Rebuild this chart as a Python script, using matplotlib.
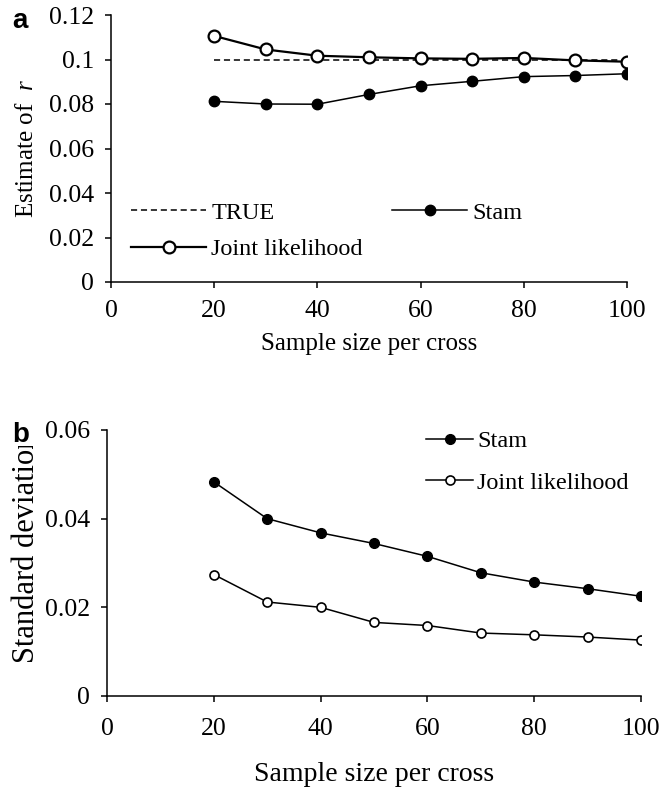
import matplotlib
matplotlib.use("Agg")
import matplotlib.pyplot as plt
from matplotlib.transforms import Bbox, TransformedBbox

# ---------------- data ----------------
sample_size = [20, 30, 40, 50, 60, 70, 80, 90, 100]
true_r = [0.1] * 9
est_stam = [0.0812, 0.0800, 0.0799, 0.0843, 0.0882, 0.0902, 0.0923, 0.0928, 0.0936]
est_joint = [0.1106, 0.1045, 0.1017, 0.1010, 0.1005, 0.1003, 0.1007, 0.0996, 0.0990]
sd_stam = [0.0483, 0.0400, 0.0368, 0.0344, 0.0315, 0.0278, 0.0257, 0.0242, 0.0225]
sd_joint = [0.0274, 0.0212, 0.0200, 0.0166, 0.0159, 0.0142, 0.0138, 0.0133, 0.0126]
x_ticks = [0, 20, 40, 60, 80, 100]
a_yticks = [0, 0.02, 0.04, 0.06, 0.08, 0.1, 0.12]
b_yticks = [0, 0.02, 0.04, 0.06]

SERIF = ["Liberation Serif", "DejaVu Serif"]
plt.rcParams["font.family"] = SERIF
plt.rcParams["mathtext.fontset"] = "custom"
plt.rcParams["mathtext.it"] = "Liberation Serif:italic"
plt.rcParams["mathtext.rm"] = "Liberation Serif"

fig = plt.figure(figsize=(6.62, 7.92), dpi=100)
W, H = 662, 792
TICK_FS = 18.5

def ax_rect(l, r, t, b):
    return [l / W, 1 - b / H, (r - l) / W, (b - t) / H]

def style(ax, yticks, xpad):
    for s in ("top", "right"):
        ax.spines[s].set_visible(False)
    for s in ("left", "bottom"):
        ax.spines[s].set_linewidth(1.1)
    ax.tick_params(direction="out", length=4, width=1.1, labelsize=TICK_FS)
    ax.tick_params(axis="y", pad=8)
    ax.tick_params(axis="x", pad=xpad)
    ax.set_xlim(0, 100)
    ax.set_xticks(x_ticks)
    ax.set_xticklabels([str(v) for v in x_ticks])
    ax.set_yticks(yticks)
    ax.set_yticklabels([f"{v:g}" for v in yticks])

# ---------------- panel a ----------------
axa = fig.add_axes(ax_rect(111, 627, 15, 282))
style(axa, a_yticks, 9)
axa.set_ylim(0, 0.12)
axa.plot(sample_size, true_r, ls=(0, (4, 2.5)), color="black", lw=1.1, label="TRUE")
axa.plot(sample_size, est_joint, color="black", lw=1.6, marker="o", ms=8.5,
         mfc="white", mec="black", mew=1.6, label="Joint likelihood", zorder=4)
axa.plot(sample_size, est_stam, color="black", lw=1.1, marker="o", ms=7.5,
         mfc="black", mec="black", label="Stam", zorder=3)
axa.set_ylabel("Estimate of  $\\mathit{r}$", fontsize=18, labelpad=8)
axa.set_xlabel("Sample size per cross", fontsize=18, labelpad=8)
axa.legend(ncol=2, loc="lower left", bbox_to_anchor=(0.02, 0.045),
           frameon=False, fontsize=17.5, handlelength=3.1, handletextpad=0.2,
           columnspacing=1.2, labelspacing=0.6, borderaxespad=0)
fig.text(12 / W, 1 - 28 / H, "a", fontsize=20, fontweight="bold",
         family=["Liberation Sans", "DejaVu Sans"], ha="left", va="baseline")

# ---------------- panel b ----------------
axb = fig.add_axes(ax_rect(107, 641, 430, 696))
style(axb, b_yticks, 12)
axb.set_ylim(0, 0.06)
axb.plot(sample_size, sd_stam, color="black", lw=1.1, marker="o", ms=7,
         mfc="black", mec="black", label="Stam")
axb.plot(sample_size, sd_joint, color="black", lw=1.1, marker="o", ms=6.5,
         mfc="white", mec="black", mew=1.2, label="Joint likelihood")
axb.set_xlabel("Sample size per cross", fontsize=20, labelpad=16)
axb.legend(loc="upper left", bbox_to_anchor=(0.58, 1.035), frameon=False,
           fontsize=17.5, handlelength=1.9, handletextpad=0.2, labelspacing=0.8,
           borderaxespad=0)
yl = fig.text(27 / W, 1 - 548 / H, "Standard deviation", rotation=90,
              fontsize=22, ha="center", va="center")
yl.set_clip_box(TransformedBbox(Bbox([[0, 0], [1, 1 - 446 / H]]), fig.transFigure))
yl.set_clip_on(True)
fig.text(12 / W, 1 - 442 / H, "b", fontsize=20, fontweight="bold",
         family=["Liberation Sans", "DejaVu Sans"], ha="left", va="baseline")

fig.savefig("out.png", dpi=100)
